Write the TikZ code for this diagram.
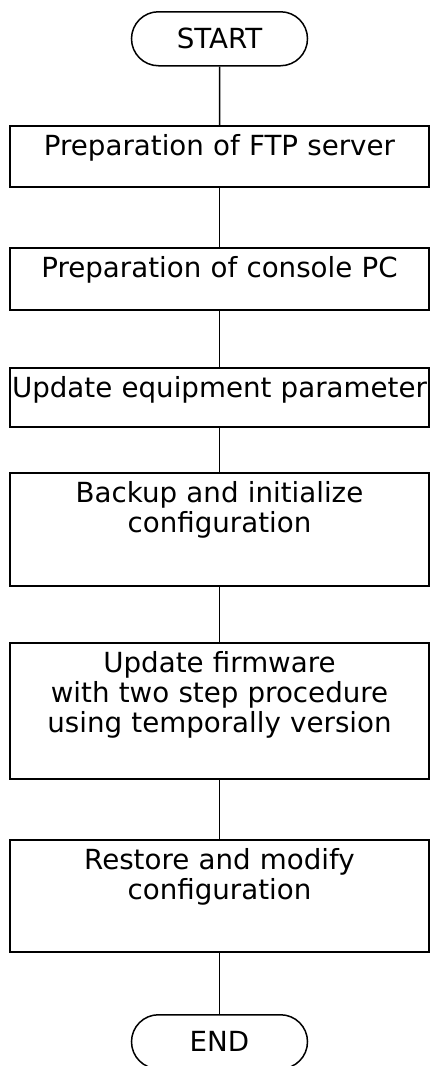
\documentclass[tikz,border=0pt]{standalone}
\usepackage{fontspec}
\setmainfont{DejaVu Sans}
\usetikzlibrary{shapes.misc}

\tikzset{
  stepbox/.style={draw, rectangle, anchor=north, text width=416pt, align=center,
    inner xsep=1.5pt, inner ysep=0pt, text height=30pt},
  termbox/.style={draw, rounded rectangle, anchor=north, minimum width=176pt,
    minimum height=54pt, inner sep=0pt}
}

\begin{document}
\begin{tikzpicture}[x=1pt, y=-1pt, line width=1.5pt,
    font=\fontsize{27.7}{30}\selectfont]
    \useasboundingbox (0,0) rectangle (430,1066);
    % terminals
    \node [termbox] (start) at (219.5,11) {START};
    \node [termbox] (end) at (219.5,1014) {END};
    % steps
    \node [stepbox, text depth=31pt] (ftp) at (219.5,125) {Preparation of FTP server};
    \node [stepbox, text depth=32pt] (pc) at (219.5,247) {Preparation of console PC};
    \node [stepbox, text depth=29pt] (param) at (219.5,367) {Update equipment parameter};
    \node [stepbox, text depth=83pt] (backup) at (219.5,472) {Backup and initialize\\configuration};
    \node [stepbox, text depth=106pt] (firm) at (219.5,642) {Update firmware\\with two step procedure\\using temporally version};
    \node [stepbox, text depth=82pt] (restore) at (219.5,839) {Restore and modify\\configuration};
    % connectors
    \draw (start) -- (ftp);
    \draw (ftp) -- (pc);
    \draw (pc) -- (param);
    \draw (param) -- (backup);
    \draw (backup) -- (firm);
    \draw (firm) -- (restore);
    \draw (restore) -- (end);
\end{tikzpicture}
\end{document}
